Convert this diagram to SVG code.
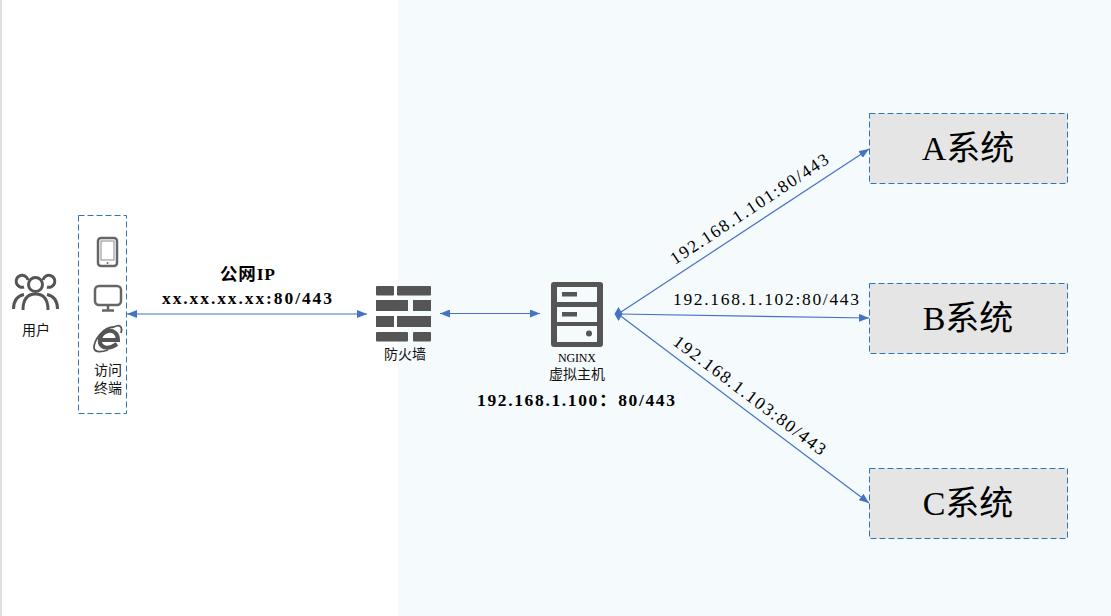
<svg xmlns="http://www.w3.org/2000/svg" width="1111" height="616" viewBox="0 0 1111 616">
<style>
text{font-family:"Liberation Serif","Noto Sans CJK SC",serif;fill:#000}
.cap{font-family:"Noto Sans CJK SC","Liberation Sans",sans-serif;font-size:14px;text-anchor:middle;fill:#111}
.ip{font-size:17.500px}
.b{font-weight:700;font-size:17.500px}
.sys{font-size:34px;text-anchor:middle}
.box{fill:#e5e5e5;stroke:#2e75b6;stroke-width:1;stroke-dasharray:6 3}
.c{stroke:#4472c4;stroke-width:1.200;fill:none}
.ico{fill:none;stroke:#666;stroke-width:2.500}
.usr{fill:none;stroke:#555;stroke-width:3}
.dark{fill:#555}
</style>
<defs>
<marker id="e" viewBox="0 0 10 8" refX="10" refY="4" markerWidth="10" markerHeight="8" markerUnits="userSpaceOnUse" orient="auto-start-reverse"><path d="M0 0L10 4L0 8Z" fill="#4472c4"/></marker>
</defs>
<rect width="1111" height="616" fill="#fff"/>
<rect x="398" width="713" height="616" fill="#f5fafd"/>
<rect width="2" height="616" fill="#e0e0e0"/>
<g id="connectors">
<line class="c" x1="127" y1="314" x2="367" y2="314" marker-start="url(#e)" marker-end="url(#e)"/>
<line class="c" x1="440" y1="313.500" x2="540" y2="313.500" marker-start="url(#e)" marker-end="url(#e)"/>
<line class="c" x1="618" y1="314" x2="869" y2="149" marker-end="url(#e)"/>
<line class="c" x1="618" y1="314" x2="869" y2="318" marker-end="url(#e)"/>
<line class="c" x1="618" y1="314" x2="869" y2="503" marker-end="url(#e)"/>
<path d="M618.500 307L622.500 314L618.500 321L614.500 314Z" fill="#4472c4"/>
<text class="b" x="162" y="304" textLength="170">xx.xx.xx.xx:80/443</text>
<text class="ip" x="673" y="305" textLength="186">192.168.1.102:80/443</text>
<text class="ip" transform="translate(675 265) rotate(-33.500)" textLength="186">192.168.1.101:80/443</text>
<text class="ip" transform="translate(672 344) rotate(37)" textLength="186">192.168.1.103:80/443</text>
<text class="b" x="220" y="280" textLength="55">公网IP</text>
</g>
<g id="user">
<circle class="usr" cx="35.500" cy="284.500" r="7"/>
<path class="usr" d="M24 287A6 6 0 1 1 28 280M47 287A6 6 0 1 0 43 280"/>
<path class="usr" d="M23 310C23 299 28 294 35.500 294C43 294 48 299 48 310"/>
<path class="usr" d="M13.500 309C13.500 301 17 296 24 294.500M57.500 309C57.500 301 54 296 47 294.500"/>
<text class="cap" x="36" y="335">用户</text>
</g>
<g id="terminal">
<rect x="78.500" y="215.500" width="48" height="198" fill="none" stroke="#2e75b6" stroke-dasharray="6 3"/>
<rect x="98" y="238" width="19" height="28" rx="3" class="ico" stroke-width="2"/>
<rect x="101" y="241" width="13" height="19" fill="none" stroke="#888"/>
<circle cx="107.500" cy="263" r="1" fill="#666"/>
<rect x="95" y="286" width="26" height="19" rx="4" class="ico"/>
<path d="M108 305V310M102 310.500H114" class="ico"/>
<path d="M101 340H118C118 333 113 330 108 331C102 332 99 338 100 343C102 349 110 349 117 344" fill="none" stroke="#555" stroke-width="4"/>
<path d="M114 327C103 327 94 340 94 348C95 353 102 352 108 350M114 327C119 324 123 326 121 333" fill="none" stroke="#555" stroke-width="1.800"/>
<text class="cap" x="108" y="375">访问</text>
<text class="cap" x="108" y="393">终端</text>
</g>
<g id="firewall">
<rect class="dark" x="376" y="286" width="18" height="9.500" rx="1"/><rect class="dark" x="397" y="286" width="34" height="9.500" rx="1"/>
<rect class="dark" x="376" y="300" width="32" height="11"/><rect class="dark" x="413" y="300" width="18" height="11"/>
<rect class="dark" x="376" y="316" width="18" height="11"/><rect class="dark" x="397" y="316" width="34" height="11"/>
<rect class="dark" x="376" y="332" width="32" height="9.500" rx="1"/><rect class="dark" x="413" y="332" width="18" height="9.500" rx="1"/>
<text class="cap" x="405" y="359">防火墙</text>
</g>
<g id="nginx">
<rect x="551" y="282" width="52" height="65" rx="3" class="dark"/>
<rect x="557" y="287" width="40" height="15" fill="#f5fafd"/><rect x="557" y="307" width="40" height="15" fill="#f5fafd"/><rect x="557" y="326" width="40" height="16" fill="#f5fafd"/>
<rect class="dark" x="562" y="292" width="15" height="4.500"/><rect class="dark" x="562" y="312" width="15" height="4.500"/>
<circle class="dark" cx="589" cy="333.500" r="3"/>
<text x="577" y="362" font-size="12" text-anchor="middle" textLength="38" fill="#333">NGINX</text>
<text class="cap" x="577" y="379">虚拟主机</text>
<text class="b" x="477" y="406" textLength="198">192.168.1.100：80/443</text>
</g>
<g id="system-a"><rect class="box" x="869.500" y="113.500" width="198" height="70"/><text class="sys" x="968" y="160">A系统</text></g>
<g id="system-b"><rect class="box" x="869.500" y="283.500" width="198" height="70"/><text class="sys" x="968" y="330">B系统</text></g>
<g id="system-c"><rect class="box" x="869.500" y="468.500" width="198" height="70"/><text class="sys" x="968" y="515">C系统</text></g>
</svg>
